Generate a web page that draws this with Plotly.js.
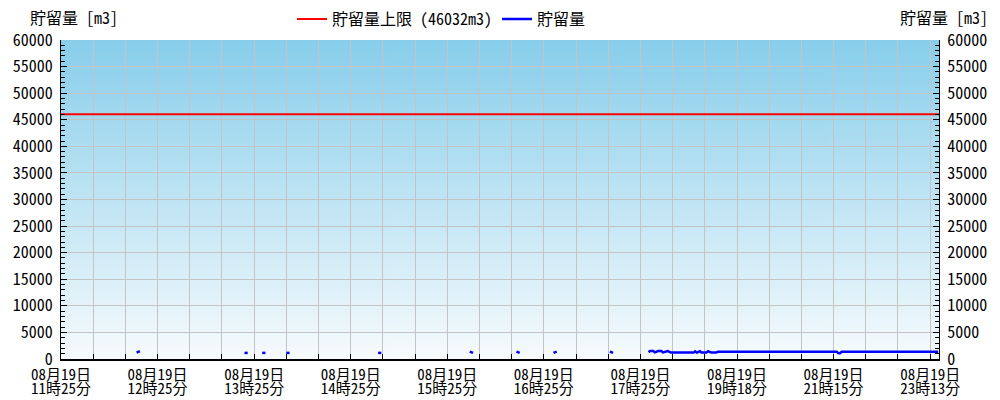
<!DOCTYPE html>
<html><head><meta charset="utf-8">
<script src="https://cdn.plot.ly/plotly-3.0.1.min.js"></script>
<style>html,body{margin:0;padding:0;background:#fff}#chart{width:1000px;height:400px}</style>
</head><body><div id="chart"></div>
<script>
// ---- data ----
const tickIndex = [0, 60, 120, 180, 240, 300, 360, 420, 480, 540];
const tickDates = ['08月19日', '08月19日', '08月19日', '08月19日', '08月19日',
                   '08月19日', '08月19日', '08月19日', '08月19日', '08月19日'];
const tickTimes = ['11時25分', '12時25分', '13時25分', '14時25分', '15時25分',
                   '16時25分', '17時25分', '19時18分', '21時15分', '23時13分'];
const recordIndex = [
  47, 49, null,
  114, 116, null,
  125, 127, null,
  140, 142, null,
  197, 199, null,
  254, 256, null,
  283, 285, null,
  306, 308, null,
  341, 343, null,
  365, 366, 368, 369, 371, 373, 374, 376, 377, 379, 393, 394, 395, 397, 398, 401, 402, 404, 407, 408, 482, 483, 484, 485, 545
];
const storage = [
  1200, 1500, null,
  1150, 1150, null,
  1150, 1150, null,
  1150, 1150, null,
  1150, 1150, null,
  1400, 1150, null,
  1400, 1150, null,
  1150, 1400, null,
  1400, 1150, null,
  1300, 1500, 1500, 1250, 1500, 1500, 1250, 1500, 1500, 1200, 1200, 1450, 1200, 1450, 1200, 1200, 1450, 1200, 1200, 1350, 1350, 1100, 1100, 1350, 1350
];
const storageLimit = 46032;
const axisStart = 0, axisEnd = 545.5;
const limitName = '貯留量上限 (46032m3)';
const seriesName = '貯留量';
const axisTitle = '貯留量 [m3]';

// ---- background gradient ----
const cv = document.createElement('canvas'); cv.width = 4; cv.height = 320;
const ctx = cv.getContext('2d');
const g = ctx.createLinearGradient(0, 0, 0, 320);
g.addColorStop(0, '#87CEEB'); g.addColorStop(1, '#F7FBFD');
ctx.fillStyle = g; ctx.fillRect(0, 0, 4, 320);

const FONT = '"Noto Sans Mono CJK JP", "Noto Sans CJK JP", monospace';
const GRID = '#c4c4c4';

const traces = [
  {x: [axisStart, axisEnd], y: [storageLimit, storageLimit], name: limitName, mode: 'lines',
   line: {color: '#ff0000', width: 2}, xaxis: 'x2', yaxis: 'y2', hoverinfo: 'skip'},
  {x: recordIndex, y: storage, name: seriesName, mode: 'lines', connectgaps: false,
   line: {color: '#0000ff', width: 2.5}, hoverinfo: 'skip'}
];

const yCommon = {
  range: [0, 60000], dtick: 5000, tick0: 0, tickformat: 'd', ticks: 'inside', ticklen: 6, tickcolor: '#000',
  showline: true, linecolor: '#000', linewidth: 1, zeroline: false, ticklabelstandoff: 4,
  tickfont: {family: FONT, size: 16, color: '#000'},
  minor: {dtick: 1000, ticks: 'inside', ticklen: 4, tickcolor: '#000', showgrid: false},
  fixedrange: true
};

const layout = {
  width: 1000, height: 400,
  margin: {l: 61, r: 61, t: 40, b: 41, pad: 0, autoexpand: false},
  paper_bgcolor: '#ffffff', plot_bgcolor: 'rgba(0,0,0,0)',
  font: {family: FONT, size: 16, color: '#000'},
  showlegend: true,
  legend: {orientation: 'h', xref: 'container', x: 0.292, xanchor: 'left',
           yref: 'container', y: 0.952, yanchor: 'middle',
           font: {family: FONT, size: 16, color: '#000'}, bgcolor: 'rgba(0,0,0,0)', itemgap: 3},
  xaxis: {
    range: [axisStart, axisEnd], tickmode: 'array', tickvals: tickIndex, ticktext: tickDates,
    ticks: 'inside', ticklen: 5, tickcolor: '#000', showline: true, linecolor: '#000', linewidth: 2,
    showgrid: true, gridcolor: GRID, gridwidth: 1, zeroline: false, ticklabelstandoff: 1,
    tickfont: {family: FONT, size: 15, color: '#000'},
    minor: {tickmode: 'linear', tick0: 0, dtick: 20, ticks: 'inside', ticklen: 5, tickcolor: '#000',
            showgrid: true, gridcolor: GRID, gridwidth: 1},
    fixedrange: true
  },
  xaxis2: {
    overlaying: 'x', side: 'bottom', range: [axisStart, axisEnd], tickmode: 'array',
    tickvals: tickIndex, ticktext: tickTimes, ticks: '', showline: false, showgrid: false,
    zeroline: false, ticklabelstandoff: 19,
    tickfont: {family: FONT, size: 15, color: '#000'}, fixedrange: true
  },
  yaxis: Object.assign({}, yCommon, {side: 'left', showgrid: true, gridcolor: GRID, gridwidth: 1}),
  yaxis2: Object.assign({}, yCommon, {side: 'right', overlaying: 'y', showgrid: false}),
  images: [{source: cv.toDataURL(), xref: 'paper', yref: 'paper', x: 0, y: 1, sizex: 1, sizey: 1,
            sizing: 'stretch', xanchor: 'left', yanchor: 'top', layer: 'below'}],
  annotations: [
    {text: axisTitle, xref: 'paper', yref: 'paper', x: -0.0376, xanchor: 'left', y: 1.072, yanchor: 'middle',
     showarrow: false, font: {family: FONT, size: 16, color: '#000'}},
    {text: axisTitle, xref: 'paper', yref: 'paper', x: 1.058, xanchor: 'right', y: 1.072, yanchor: 'middle',
     showarrow: false, font: {family: FONT, size: 16, color: '#000'}}
  ]
};

Plotly.newPlot('chart', traces, layout, {displayModeBar: false, staticPlot: true});
</script></body></html>
